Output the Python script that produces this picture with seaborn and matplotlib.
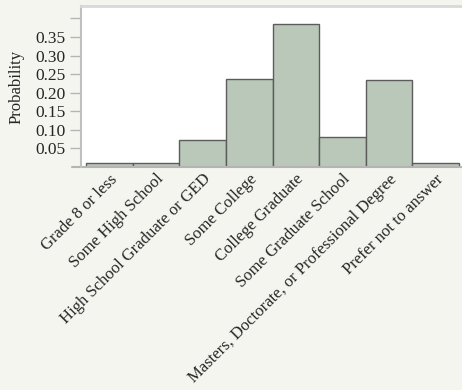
import matplotlib
matplotlib.use("Agg")
import matplotlib.pyplot as plt
import seaborn as sns
import pandas as pd

# education levels and their probabilities
categories = ['Grade 8 or less', 'Some High School', 'High School Graduate or GED',
              'Some College', 'College Graduate', 'Some Graduate School',
              'Masters, Doctorate, or Professional Degree', 'Prefer not to answer']
probs = [0.011, 0.011, 0.074, 0.237, 0.385, 0.082, 0.235, 0.011]
yticks = [0.05, 0.10, 0.15, 0.20, 0.25, 0.30, 0.35, 0.40]
ytick_labels = ['0.05', '0.10', '0.15', '0.20', '0.25', '0.30', '0.35', '']

df = pd.DataFrame({'Education': categories, 'Probability': probs})

sns.set_style('white')
plt.rcParams['font.family'] = ['Liberation Serif', 'DejaVu Serif']

bg = '#f5f5f0'
fig = plt.figure(figsize=(4.62, 3.90), dpi=100, facecolor=bg)
ax = fig.add_axes([81 / 462, 1 - 167 / 390, 381 / 462, 161 / 390])
ax.set_facecolor('white')

sns.barplot(x='Education', y='Probability', data=df, color='#b9c8b9',
            edgecolor='#5c5c5c', linewidth=1.0, width=1.0, saturation=1, ax=ax)

ax.set_xlim(-0.607, 7.564)
ax.set_ylim(0, 0.4336)
ax.set_yticks(yticks)
ax.set_yticklabels(ytick_labels, fontsize=12.5)
ax.set_xticks(range(len(categories)))
ax.set_xticklabels(categories, rotation=45, ha='right', rotation_mode='anchor',
                   fontsize=12)
ax.tick_params(axis='x', length=0, pad=3)
ax.tick_params(axis='y', length=8, width=1, color='#b4b4b4', pad=3, left=True)
ax.set_xlabel('')
ax.set_ylabel('Probability', fontsize=12, labelpad=8)

for side in ['right', 'bottom']:
    ax.spines[side].set_visible(False)
ax.spines['left'].set_color('#c0c0c0')
ax.spines['left'].set_linewidth(1.5)
ax.spines['top'].set_color('#d8d8d8')
ax.spines['top'].set_linewidth(2)
ax.axhline(0, xmin=-9 / 381, xmax=1, color='#b4b4b4', linewidth=1.5, clip_on=False)

plt.savefig('out.png', dpi=100, facecolor=bg)
